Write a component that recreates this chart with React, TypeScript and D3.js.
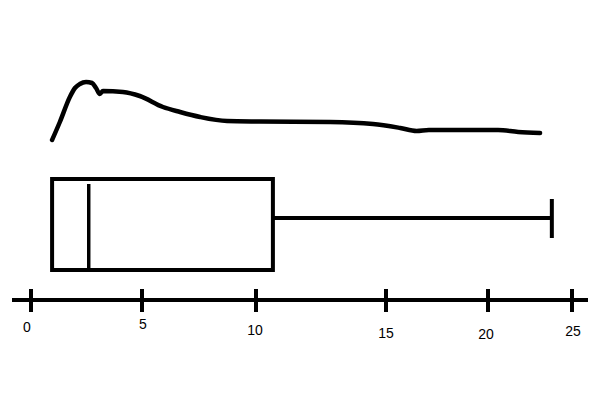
import React from "react";
import * as d3 from "d3";

// tick values along the hand-drawn axis
const tickValues = [0, 5, 10, 15, 20, 25];

// box plot summary (no lower whisker: min equals q1)
const boxMin = 0.95;
const boxQ1 = 0.95;
const boxMedian = 2.6;
const boxQ3 = 10.65;
const boxMax = 23.8;

// density curve above the box
const densityX = [
  0.95, 1.3, 1.75, 1.98, 2.2, 2.48, 2.75, 2.93, 3.1, 3.24, 4.14, 4.9, 5.92,
  6.67, 7.55, 8.73, 10.15, 12.85, 14.5, 15.7, 16.5, 17.1, 20.6, 21.8, 23.1,
];
const densityY = [
  0.3, 0.48, 0.73, 0.82, 0.86, 0.88, 0.87, 0.82, 0.76, 0.79, 0.78, 0.74, 0.63,
  0.58, 0.53, 0.49, 0.485, 0.48, 0.46, 0.42, 0.39, 0.4, 0.4, 0.38, 0.37,
];

const W = 600;
const H = 400;

// the sketch's ticks are not evenly spaced, so use a piecewise scale
const x = d3
  .scaleLinear()
  .domain(tickValues)
  .range([31, 142, 256, 386, 488, 572]);
const yDens = d3.scaleLinear().domain([0, 1]).range([170, 70]);

const axisY = 300;
const labelDy = [24, 21, 27, 30, 31, 28];
const labelDx = [-4, 1, -1, 0, -2, 1];
const boxTop = 179;
const boxBottom = 270;
const whiskerY = 218;

export default function App() {
  const line = d3
    .line<number>()
    .x((d) => x(d))
    .y((_, i) => yDens(densityY[i]))
    .curve(d3.curveMonotoneX);

  return (
    <svg
      width={W}
      height={H}
      style={{ position: "absolute", left: 0, top: 0, background: "#fff" }}
    >
      {/* density */}
      <path
        d={line(densityX) || ""}
        fill="none"
        stroke="#000"
        strokeWidth={4.5}
        strokeLinejoin="round"
        strokeLinecap="round"
      />

      {/* box */}
      <rect
        x={x(boxQ1)}
        y={boxTop}
        width={x(boxQ3) - x(boxQ1)}
        height={boxBottom - boxTop}
        fill="none"
        stroke="#000"
        strokeWidth={4}
      />
      <line
        x1={x(boxMedian)}
        x2={x(boxMedian)}
        y1={boxTop + 5}
        y2={boxBottom - 2}
        stroke="#000"
        strokeWidth={3.5}
      />
      {/* whiskers */}
      {boxMin < boxQ1 && (
        <line x1={x(boxMin)} x2={x(boxQ1)} y1={whiskerY} y2={whiskerY} stroke="#000" strokeWidth={4} />
      )}
      <line x1={x(boxQ3)} x2={x(boxMax)} y1={whiskerY} y2={whiskerY} stroke="#000" strokeWidth={4} />
      <line x1={x(boxMax)} x2={x(boxMax)} y1={whiskerY - 19} y2={whiskerY + 20} stroke="#000" strokeWidth={4} />

      {/* axis */}
      <line x1={12} x2={588} y1={axisY} y2={axisY} stroke="#000" strokeWidth={4} />
      {tickValues.map((t, i) => (
        <g key={t}>
          <line
            x1={x(t)}
            x2={x(t)}
            y1={axisY - 11}
            y2={axisY + 12}
            stroke="#000"
            strokeWidth={4}
          />
          <text
            x={x(t) + labelDx[i]}
            y={axisY + labelDy[i] + 8}
            textAnchor="middle"
            fontFamily="Liberation Sans, Arial, sans-serif"
            fontSize={14}
            fill="#000"
          >
            {t}
          </text>
        </g>
      ))}
    </svg>
  );
}
